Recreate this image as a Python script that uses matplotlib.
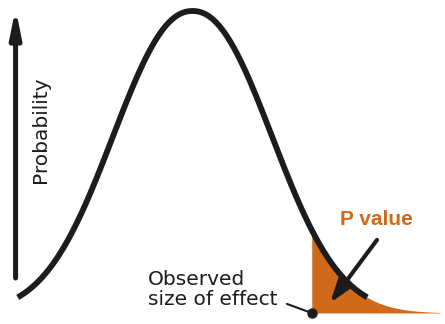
import numpy as np
import matplotlib.pyplot as plt

# bell curve drawn in "effect size" units, 0 = no effect, height relative to peak
curve_center = 0.0
curve_scale = 1.413
curve_shape = 2.17
curve_start = -2.33
curve_end = 2.33
observed_effect = 1.59
tail_end = 3.3

axis_label = "Probability"
effect_label = "Observed\nsize of effect"
p_label = "P value"

BLACK = "#1c1c1c"
ORANGE = "#d06a1a"


def density(x):
    return np.exp(-(np.abs(x - curve_center) / curve_scale) ** curve_shape)


fig = plt.figure(figsize=(4.45, 3.24), dpi=100)
ax = fig.add_axes([0, 0, 1, 1])
ax.axis("off")
ax.set_xlim(-2.567, 3.367)
ax.set_ylim(-0.0364, 1.0364)

x = np.linspace(curve_start, curve_end, 400)
x_tail = np.linspace(observed_effect, tail_end, 200)

# shaded tail = P value
ax.fill_between(x_tail, 0, density(x_tail), color=ORANGE, lw=0)
ax.plot(x, density(x), color=BLACK, lw=4.2, solid_capstyle="butt")
ax.plot([observed_effect], [0], "o", color=BLACK, ms=6.5)

# vertical probability arrow
ax.annotate("", xy=(0.035, 0.975), xytext=(0.035, 0.142),
            xycoords="axes fraction", textcoords="axes fraction",
            arrowprops=dict(arrowstyle="-|>,head_length=0.8,head_width=0.16",
                            mutation_scale=20, lw=3.6, color=BLACK,
                            shrinkA=0, shrinkB=0))
ax.text(0.092, 0.6, axis_label, rotation=90, ha="center", va="center",
        transform=ax.transAxes, fontsize=14.5, color=BLACK)

# P value label and arrow
ax.text(0.764, 0.3056, p_label, ha="left", va="baseline", transform=ax.transAxes,
        fontsize=15, fontweight="bold", family="Liberation Sans", color=ORANGE)
ax.annotate("", xy=(1.833, 0.033), xytext=(2.46, 0.242),
            arrowprops=dict(arrowstyle="-|>,head_length=0.7,head_width=0.23",
                            mutation_scale=20, lw=3, color=BLACK,
                            shrinkA=0, shrinkB=0))

# observed effect label
ax.text(0.3326, 0.1667, effect_label, ha="left", va="top", transform=ax.transAxes,
        fontsize=14.5, linespacing=1.1, color=BLACK)
ax.annotate("", xy=(observed_effect, 0), xytext=(1.26, 0.030),
            arrowprops=dict(arrowstyle="-", lw=1.5, color=BLACK,
                            shrinkA=0, shrinkB=0))

fig.savefig("out.png", dpi=100)
